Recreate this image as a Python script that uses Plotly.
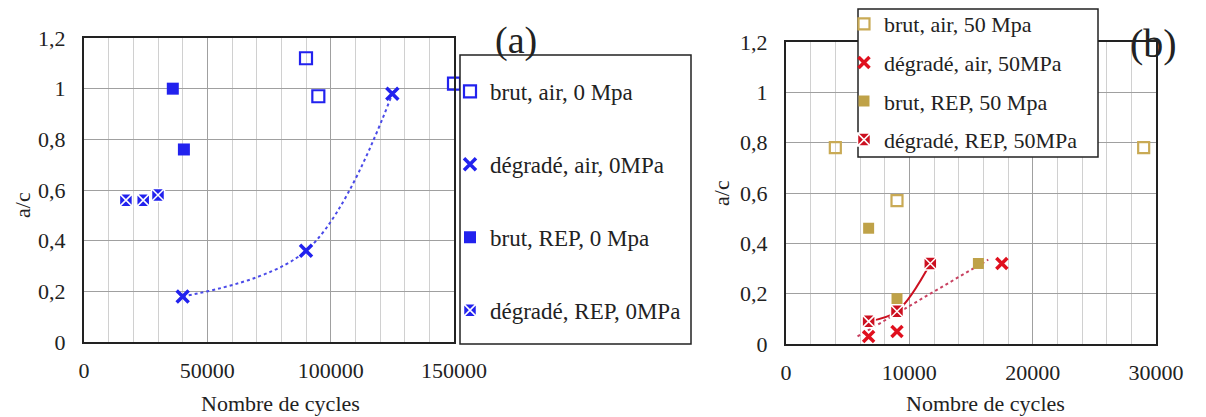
import plotly.graph_objects as go

# ---------------- data (a) ----------------
brut_air_0_x = [90000, 95000, 150000]
brut_air_0_y = [1.12, 0.97, 1.02]
degr_air_0_x = [40000, 90000, 125000]
degr_air_0_y = [0.18, 0.36, 0.98]
brut_rep_0_x = [36000, 40500]
brut_rep_0_y = [1.00, 0.76]
degr_rep_0_x = [17000, 24000, 30000]
degr_rep_0_y = [0.56, 0.56, 0.58]

# ---------------- data (b) ----------------
brut_air_50_x = [4000, 9000, 29000]
brut_air_50_y = [0.78, 0.57, 0.78]
degr_air_50_x = [6700, 9000, 17500]
degr_air_50_y = [0.03, 0.05, 0.32]
brut_rep_50_x = [6700, 9000, 15600]
brut_rep_50_y = [0.46, 0.18, 0.32]
degr_rep_50_x = [6700, 9000, 11700]
degr_rep_50_y = [0.09, 0.13, 0.32]
# trend line (dotted) of dégradé, air, 50MPa as drawn
trend_air_50_x = [5800, 16400]
trend_air_50_y = [0.03, 0.335]

names_a = ["brut, air, 0 Mpa", "dégradé, air, 0MPa", "brut, REP, 0 Mpa", "dégradé, REP, 0MPa"]
names_b = ["brut, air, 50 Mpa", "dégradé, air, 50MPa", "brut, REP, 50 Mpa", "dégradé, REP, 50MPa"]
x_title = "Nombre de cycles"
y_title = "a/c"

FONT = "Liberation Serif, Times New Roman, DejaVu Serif, serif"
INK = "#222"
BLUE = "#2222EE"
TAN_OPEN = "#C9AA55"
TAN = "#BFA248"
RED = "#E0101E"
RED_DARK = "#CC1020"

fig = go.Figure()

# ---- chart (a) ----
fig.add_trace(go.Scatter(x=degr_air_0_x, y=degr_air_0_y, mode="lines",
                         line=dict(color="#4A4AE8", width=2, dash="dot", shape="spline"),
                         showlegend=False, hoverinfo="skip", xaxis="x", yaxis="y"))
fig.add_trace(go.Scatter(x=brut_air_0_x, y=brut_air_0_y, mode="markers", name=names_a[0],
                         marker=dict(symbol="square-open", size=12, color=BLUE, line=dict(width=2.2, color=BLUE)),
                         legend="legend", legendgroup="a1", xaxis="x", yaxis="y"))
fig.add_trace(go.Scatter(x=degr_air_0_x, y=degr_air_0_y, mode="markers", name=names_a[1],
                         marker=dict(symbol="x-thin-open", size=12, color=BLUE, line=dict(width=3.5, color=BLUE)),
                         legend="legend", legendgroup="a2", xaxis="x", yaxis="y"))
fig.add_trace(go.Scatter(x=brut_rep_0_x, y=brut_rep_0_y, mode="markers", name=names_a[2],
                         marker=dict(symbol="square", size=12, color=BLUE, line=dict(width=0)),
                         legend="legend", legendgroup="a3", xaxis="x", yaxis="y"))
fig.add_trace(go.Scatter(x=degr_rep_0_x, y=degr_rep_0_y, mode="markers", name=names_a[3],
                         marker=dict(symbol="square-x", size=13, color=BLUE, line=dict(width=1.5, color="white")),
                         legend="legend", legendgroup="a4", xaxis="x", yaxis="y"))

# ---- chart (b) ----
fig.add_trace(go.Scatter(x=trend_air_50_x, y=trend_air_50_y, mode="lines",
                         line=dict(color="#C84060", width=2, dash="dot"),
                         showlegend=False, hoverinfo="skip", xaxis="x2", yaxis="y2"))
fig.add_trace(go.Scatter(x=degr_rep_50_x, y=degr_rep_50_y, mode="lines",
                         line=dict(color=RED_DARK, width=2, shape="spline"),
                         showlegend=False, hoverinfo="skip", xaxis="x2", yaxis="y2"))
fig.add_trace(go.Scatter(x=brut_air_50_x, y=brut_air_50_y, mode="markers", name=names_b[0],
                         marker=dict(symbol="square-open", size=11, color=TAN_OPEN, line=dict(width=2.2, color=TAN_OPEN)),
                         legend="legend2", legendgroup="b1", xaxis="x2", yaxis="y2"))
fig.add_trace(go.Scatter(x=degr_air_50_x, y=degr_air_50_y, mode="markers", name=names_b[1],
                         marker=dict(symbol="x-thin-open", size=11, color=RED, line=dict(width=3.5, color=RED)),
                         legend="legend2", legendgroup="b2", xaxis="x2", yaxis="y2"))
fig.add_trace(go.Scatter(x=brut_rep_50_x, y=brut_rep_50_y, mode="markers", name=names_b[2],
                         marker=dict(symbol="square", size=11, color=TAN, line=dict(width=0)),
                         legend="legend2", legendgroup="b3", xaxis="x2", yaxis="y2"))
fig.add_trace(go.Scatter(x=degr_rep_50_x, y=degr_rep_50_y, mode="markers", name=names_b[3],
                         marker=dict(symbol="square-x", size=13, color=RED_DARK, line=dict(width=1.5, color="white")),
                         legend="legend2", legendgroup="b4", xaxis="x2", yaxis="y2"))

# page is rendered with the default 8px body margin: lay out in page pixels
OFF = 8
W, H = 1206 - OFF, 417 - OFF

def px_x(p):
    return (p - OFF) / W

def px_y(p):
    return 1 - (p - OFF) / H

def xax(domain, rng, dtick, minor, anchor):
    return dict(domain=domain, range=rng, dtick=dtick, tick0=0, tickformat="d", anchor=anchor,
                showgrid=True, gridcolor="#A0A0A0", gridwidth=1.2,
                minor=dict(dtick=minor, tick0=0, showgrid=True, gridcolor="#D0D0D0", gridwidth=1),
                showline=True, linecolor=INK, linewidth=2, mirror=True,
                zeroline=False, ticks="", ticklabelstandoff=8, automargin=False,
                tickfont=dict(family=FONT, size=22, color=INK),
                fixedrange=True)

def yax(domain, anchor):
    return dict(domain=domain, range=[0, 1.2], dtick=0.2, tick0=0, anchor=anchor,
                showgrid=True, gridcolor="#A0A0A0", gridwidth=1.2,
                showline=True, linecolor=INK, linewidth=2, mirror=True,
                zeroline=False, ticks="", ticklabelstandoff=12, automargin=False,
                tickfont=dict(family=FONT, size=22, color=INK),
                fixedrange=True)

def label(text, x, y, size=22, angle=0):
    return dict(text=text, x=px_x(x), y=px_y(y), xref="paper", yref="paper",
                xanchor="center", yanchor="middle", textangle=angle,
                showarrow=False, font=dict(family=FONT, size=size, color=INK))

fig.update_layout(
    width=W, height=H,
    margin=dict(l=0, r=0, t=0, b=0, pad=0, autoexpand=False),
    paper_bgcolor="white", plot_bgcolor="white",
    separators=", ",
    font=dict(family=FONT, size=22, color=INK),
    xaxis=xax([px_x(84), px_x(454)], [0, 150000], 50000, 10000, "y"),
    yaxis=yax([px_y(342), px_y(38)], "x"),
    xaxis2=xax([px_x(786), px_x(1156)], [0, 30000], 10000, 2000, "y2"),
    yaxis2=yax([px_y(344), px_y(42)], "x2"),
    legend=dict(x=px_x(450), y=px_y(70), xanchor="left", yanchor="top",
                bgcolor="rgba(0,0,0,0)", borderwidth=0,
                font=dict(family=FONT, size=23, color=INK),
                traceorder="grouped", tracegroupgap=40, itemwidth=30),
    legend2=dict(x=px_x(844), y=px_y(3), xanchor="left", yanchor="top",
                 bgcolor="rgba(0,0,0,0)", borderwidth=0,
                 font=dict(family=FONT, size=22, color=INK),
                 traceorder="grouped", tracegroupgap=7, itemwidth=30),
    shapes=[
        dict(type="rect", xref="paper", yref="paper", layer="above",
             x0=px_x(460), x1=px_x(691), y0=px_y(344), y1=px_y(55),
             line=dict(color=INK, width=1.5), fillcolor="white"),
        dict(type="rect", xref="paper", yref="paper", layer="above",
             x0=px_x(858), x1=px_x(1098), y0=px_y(157), y1=px_y(9),
             line=dict(color=INK, width=1.5), fillcolor="white"),
    ],
    annotations=[
        label("(a)", 516, 41, size=38),
        label("(b)", 1153, 43, size=40),
        label(x_title, 280, 403),
        label(x_title, 985, 403),
        label(y_title, 22, 205, angle=-90),
        label(y_title, 722, 193, angle=-90),
    ],
)

for tr in fig.data:
    tr.cliponaxis = False

fig.write_html("out.html")
